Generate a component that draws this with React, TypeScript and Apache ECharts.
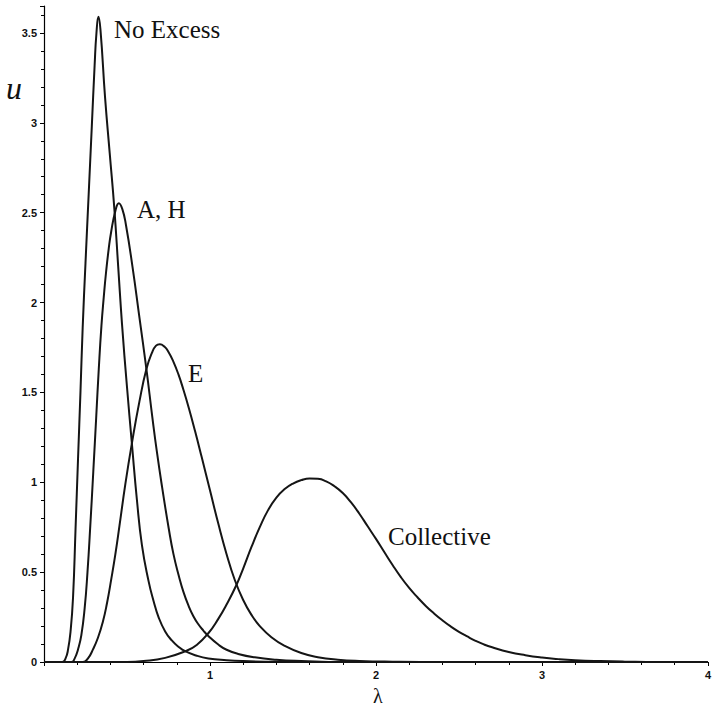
import React, { useEffect, useRef } from "react";
import * as echarts from "echarts";

// [lambda, u] pairs
const noExcess: number[][] = [
  [0, 0], [0.11, 0], [0.13, 0.02], [0.145, 0.07], [0.16, 0.17], [0.175, 0.36],
  [0.19, 0.74], [0.205, 1.13], [0.22, 1.51], [0.233, 1.86], [0.25, 2.22],
  [0.269, 2.6], [0.288, 2.98], [0.305, 3.32], [0.316, 3.5], [0.328, 3.59],
  [0.34, 3.52], [0.368, 3.14], [0.396, 2.83], [0.424, 2.52], [0.447, 2.2],
  [0.47, 1.88], [0.5, 1.53], [0.53, 1.21], [0.56, 0.9], [0.59, 0.65],
  [0.63, 0.45], [0.66, 0.34], [0.69, 0.25], [0.73, 0.17], [0.77, 0.12],
  [0.81, 0.085], [0.85, 0.06], [0.92, 0.035], [0.99, 0.02], [1.1, 0.01],
  [1.2, 0.005], [1.4, 0.001], [1.6, 0], [4, 0],
];
const aH: number[][] = [
  [0, 0], [0.165, 0], [0.185, 0.02], [0.205, 0.07], [0.225, 0.15], [0.245, 0.3],
  [0.262, 0.5], [0.279, 0.76], [0.297, 1.06], [0.315, 1.37], [0.33, 1.63],
  [0.346, 1.87], [0.36, 2.03], [0.374, 2.17], [0.39, 2.3], [0.404, 2.39],
  [0.43, 2.51], [0.451, 2.553], [0.472, 2.52], [0.494, 2.43], [0.533, 2.2],
  [0.573, 1.93], [0.617, 1.63], [0.653, 1.36], [0.68, 1.17], [0.712, 0.97],
  [0.752, 0.74], [0.78, 0.6], [0.812, 0.48], [0.84, 0.39], [0.872, 0.31],
  [0.9, 0.255], [0.93, 0.21], [0.96, 0.175], [0.99, 0.145], [1.05, 0.097],
  [1.1, 0.068], [1.17, 0.045], [1.27, 0.026], [1.4, 0.013], [1.55, 0.006],
  [1.8, 0], [4, 0],
];
const eCurve: number[][] = [
  [0, 0], [0.235, 0], [0.265, 0.02], [0.295, 0.07], [0.325, 0.135], [0.355, 0.225],
  [0.38, 0.33], [0.405, 0.46], [0.43, 0.6], [0.455, 0.76], [0.49, 0.99],
  [0.53, 1.22], [0.575, 1.45], [0.617, 1.63], [0.65, 1.72], [0.675, 1.76],
  [0.698, 1.768], [0.725, 1.755], [0.75, 1.725], [0.78, 1.67], [0.81, 1.6],
  [0.84, 1.515], [0.872, 1.415], [0.91, 1.285], [0.95, 1.14], [1.0, 0.955],
  [1.05, 0.77], [1.1, 0.6], [1.15, 0.455], [1.2, 0.345], [1.25, 0.262],
  [1.3, 0.2], [1.37, 0.138], [1.45, 0.09], [1.55, 0.05], [1.65, 0.027],
  [1.77, 0.013], [1.9, 0.006], [2.1, 0.002], [2.4, 0], [4, 0],
];
const collective: number[][] = [
  [0, 0], [0.5, 0], [0.6, 0.005], [0.73, 0.023], [0.852, 0.06], [0.92, 0.095],
  [0.99, 0.16], [1.05, 0.24], [1.1, 0.32], [1.16, 0.43], [1.2, 0.52],
  [1.25, 0.64], [1.3, 0.75], [1.35, 0.845], [1.4, 0.915], [1.45, 0.962],
  [1.5, 0.993], [1.55, 1.012], [1.6, 1.021], [1.65, 1.019], [1.7, 1.005],
  [1.75, 0.978], [1.8, 0.94], [1.85, 0.888], [1.9, 0.825], [1.95, 0.755],
  [2.0, 0.685], [2.05, 0.612], [2.1, 0.54], [2.15, 0.472], [2.2, 0.412],
  [2.25, 0.36], [2.3, 0.312], [2.35, 0.27], [2.4, 0.232], [2.45, 0.198],
  [2.5, 0.168], [2.55, 0.142], [2.6, 0.118], [2.65, 0.098], [2.7, 0.082],
  [2.8, 0.056], [2.9, 0.038], [3.0, 0.025], [3.1, 0.016], [3.2, 0.01],
  [3.35, 0.005], [3.5, 0.002], [3.7, 0], [4, 0],
];

const seriesNames = ["No Excess", "A, H", "E", "Collective"];
const curveLabels = ["No Excess", "A, H", "E", "Collective"];

export default function App() {
  const ref = useRef<HTMLDivElement>(null);
  useEffect(() => {
    if (!ref.current) return;
    const chart = echarts.init(ref.current, null, { renderer: "svg" });
    const lineColor = "#151515";
    const mk = (name: string, data: number[][]) => ({
      name,
      type: "line",
      data,
      smooth: 0.5,
      showSymbol: false,
      symbol: "none",
      lineStyle: { color: lineColor, width: 2 },
      z: 3,
    });
    const labelStyle = {
      fontFamily: "'Liberation Serif', 'Times New Roman', serif",
      fontSize: 25,
      fill: "#111",
    };
    const tickLabel = {
      color: "#111",
      fontSize: 11,
      fontWeight: "bold",
      fontFamily: "'Liberation Sans', Arial, sans-serif",
    };
    chart.setOption({
      animation: false,
      backgroundColor: "#ffffff",
      grid: { left: 44, right: 1, top: 6, bottom: 44 },
      xAxis: {
        type: "value",
        min: 0,
        max: 4,
        interval: 1,
        axisLine: { show: true, onZero: false, lineStyle: { color: "#000", width: 1.2 } },
        axisTick: { show: true, length: 4, lineStyle: { color: "#000" } },
        minorTick: { show: true, splitNumber: 5, length: 3, lineStyle: { color: "#000" } },
        splitLine: { show: false },
        axisLabel: {
          ...tickLabel,
          margin: 7,
          formatter: (v: number) => (v === 0 ? "" : String(v)),
        },
      },
      yAxis: {
        type: "value",
        min: 0,
        max: 3.65,
        interval: 0.5,
        axisLine: { show: true, onZero: false, lineStyle: { color: "#000", width: 1.2 } },
        axisTick: { show: true, length: 4, lineStyle: { color: "#000" } },
        minorTick: { show: true, splitNumber: 5, length: 3, lineStyle: { color: "#000" } },
        splitLine: { show: false },
        axisLabel: {
          ...tickLabel,
          margin: 7,
          showMaxLabel: false,
          formatter: (v: number) =>
            Math.abs(v / 0.5 - Math.round(v / 0.5)) < 1e-6 ? String(v) : "",
        },
      },
      series: [
        mk(seriesNames[0], noExcess),
        mk(seriesNames[1], aH),
        mk(seriesNames[2], eCurve),
        mk(seriesNames[3], collective),
      ],
      graphic: [
        { type: "text", left: 114, top: 17, style: { ...labelStyle, text: curveLabels[0] } },
        { type: "text", left: 137, top: 197, style: { ...labelStyle, text: curveLabels[1] } },
        { type: "text", left: 188, top: 361, style: { ...labelStyle, text: curveLabels[2] } },
        { type: "text", left: 388, top: 524, style: { ...labelStyle, text: curveLabels[3] } },
        {
          type: "text",
          left: 6,
          top: 72,
          style: {
            text: "u",
            fontFamily: "'Liberation Serif', 'Times New Roman', serif",
            fontStyle: "italic",
            fontSize: 32,
            fill: "#111",
          },
        },
        {
          type: "text",
          left: 373,
          top: 686,
          style: {
            text: "λ",
            fontFamily: "'Liberation Serif', 'Times New Roman', serif",
            fontSize: 20,
            fill: "#111",
          },
        },
      ],
    });
    return () => chart.dispose();
  }, []);
  return (
    <div
      ref={ref}
      style={{ position: "fixed", left: 0, top: 0, width: 714, height: 706, background: "#fff" }}
    />
  );
}
